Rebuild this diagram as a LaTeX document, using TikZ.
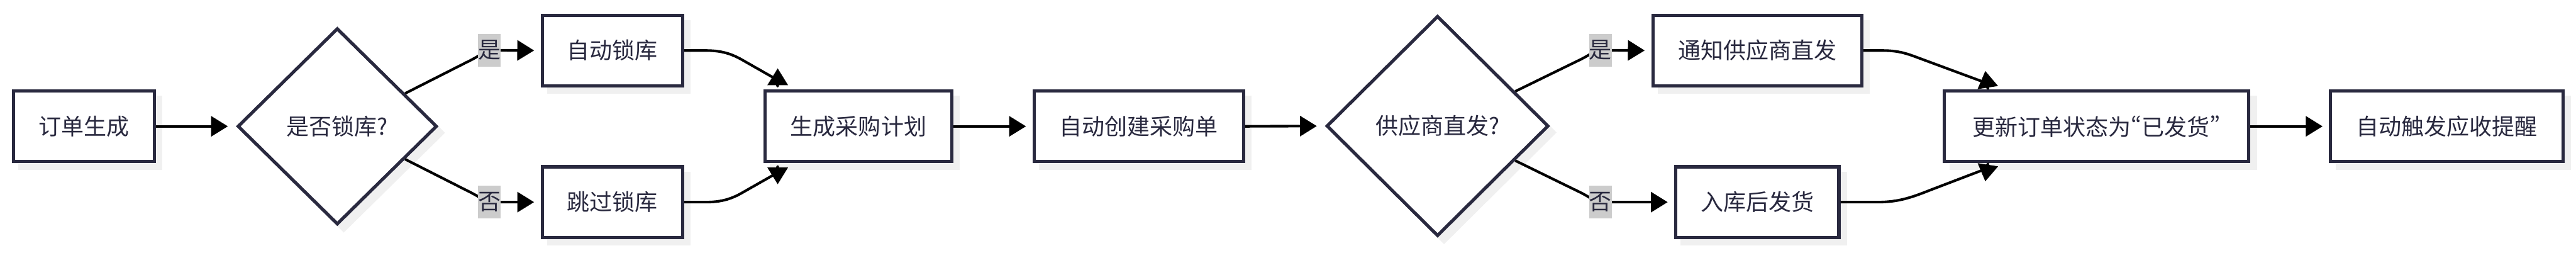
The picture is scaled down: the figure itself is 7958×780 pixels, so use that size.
\documentclass[tikz,border=0pt]{standalone}
\usepackage{fontspec}
\setmainfont{Noto Sans CJK SC}
\newfontfamily\quotefont[RawFeature=+pwid]{Noto Sans CJK SC}
\usetikzlibrary{shapes.geometric,arrows.meta,shadows,calc}
\definecolor{ink}{HTML}{29293F}
\definecolor{shgray}{HTML}{F0F0F0}
\definecolor{lblgray}{HTML}{CCCCCC}
\pgfdeclarelayer{edges}
\pgfdeclarelayer{labels}
\pgfsetlayers{main,edges,labels}
\tikzset{
  x=0.1pt, y=-0.1pt,
  txt/.style={font=\fontsize{7pt}{8.4pt}\selectfont, text=ink},
  proc/.style={txt, draw=ink, line width=1pt, fill=white, minimum height=21.8pt, inner sep=0pt,
    general shadow={fill=shgray, draw=shgray, line width=1pt, shadow xshift=2pt, shadow yshift=-2pt}},
  decis/.style={proc, diamond},
  conn/.style={draw=black, line width=0.8pt, line join=round},
  arr/.style={-{Triangle[length=5.2pt,width=6.2pt]}},
  elabel/.style={txt, fill=lblgray, minimum width=7pt, minimum height=10.2pt, inner sep=0pt}
}
\begin{document}
\begin{tikzpicture}
\useasboundingbox (0,0) rectangle (7958,780);
% nodes
\node[proc, minimum width=43.6pt] (start) at (259,390) {订单生成};
\node[decis, minimum width=61.6pt, minimum height=60.6pt] (d1) at (1042,390) {是否锁库?};
\node[proc, minimum width=43.4pt] (auto) at (1892,156) {自动锁库};
\node[proc, minimum width=43.4pt] (skip) at (1892,624) {跳过锁库};
\node[proc, minimum width=57.7pt] (plan) at (2652,390) {生成采购计划};
\node[proc, minimum width=64.7pt] (po) at (3518,390) {自动创建采购单};
\node[decis, minimum width=68.6pt, minimum height=68pt] (d2) at (4441,389) {供应商直发?};
\node[proc, minimum width=64.6pt] (notify) at (5429,156) {通知供应商直发};
\node[proc, minimum width=50.4pt] (stock) at (5429,624) {入库后发货};
\node[proc, minimum width=94pt] (upd) at (6477,390) {更新订单状态为{\quotefont “}已发货{\quotefont ”}};
\node[proc, minimum width=71.8pt] (remind) at (7559,390) {自动触发应收提醒};
% edge labels
\begin{pgfonlayer}{labels}
\node[elabel] (y1) at (1512,155) {是};
\node[elabel] (n1) at (1512,624) {否};
\node[elabel] (y2) at (4944,155) {是};
\node[elabel] (n2) at (4944,624) {否};
\end{pgfonlayer}
% connectors
\begin{pgfonlayer}{edges}
\draw[conn, arr, shorten >=2.5pt] (start.east) -- (d1.west);
\draw[conn, arr, shorten >=2pt] ($(d1.north)!0.67!(d1.east)$) -- (1440,193)
  .. controls (1480,174) and (1500,157) .. (y1.center) -- (auto.west);
\draw[conn, arr, shorten >=2pt] ($(d1.south)!0.67!(d1.east)$) -- (1440,587)
  .. controls (1480,606) and (1500,623) .. (n1.center) -- (skip.west);
\draw[conn, arr] (auto.east) -- (2180,156) .. controls (2222,156) and (2255,163) .. (2293,185)
  -- (2395,243) -- ($(plan.north west)+(44,-10)$) -- ($(plan.north west)+(44,-65)$);
\draw[conn, arr] (skip.east) -- (2180,624) .. controls (2222,624) and (2255,617) .. (2293,595)
  -- (2395,537) -- ($(plan.south west)+(44,10)$) -- ($(plan.south west)+(44,65)$);
\draw[conn, arr, shorten >=2pt] (plan.east) -- (po.west);
\draw[conn, arr, shorten >=2.5pt] (po.east) -- (d2.west);
\draw[conn, arr, shorten >=2pt] ($(d2.north)!0.69!(d2.east)$) -- (4880,185)
  .. controls (4915,168) and (4925,156) .. (y2.center) -- (notify.west);
\draw[conn, arr, shorten >=2pt] ($(d2.south)!0.69!(d2.east)$) -- (4880,593)
  .. controls (4915,610) and (4925,623) .. (n2.center) -- (stock.west);
\draw[conn, arr] (notify.east) -- (5815,156) .. controls (5865,156) and (5890,165) .. (5930,180)
  -- (6133,255) -- ($(upd.north west)+(139.3,-2.6)$) -- ($(upd.north west)+(131,-57)$);
\draw[conn, arr] (stock.east) -- (5800,624) .. controls (5860,624) and (5900,612) .. (5960,588)
  -- (6133,522) -- ($(upd.south west)+(139.5,1.7)$) -- ($(upd.south west)+(131,56)$);
\draw[conn, arr, shorten >=2pt] (upd.east) -- (remind.west);
\end{pgfonlayer}
\end{tikzpicture}
\end{document}
